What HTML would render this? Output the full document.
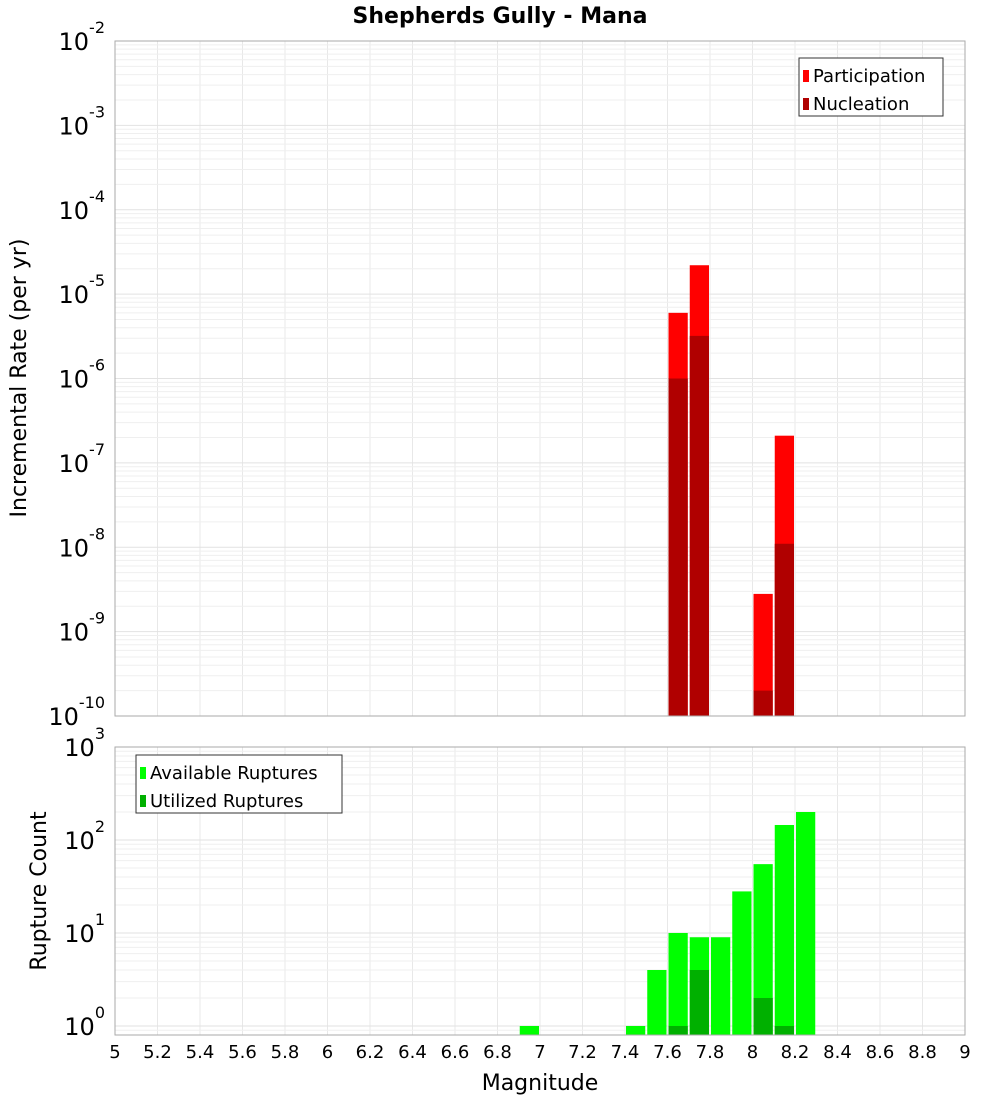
<!DOCTYPE html>
<html><head><meta charset="utf-8"><style>
body{margin:0;background:#fff;font-family:"Liberation Sans","DejaVu Sans",sans-serif}
svg text{font-family:"DejaVu Sans","Liberation Sans",sans-serif}
</style></head><body>
<svg id="c" width="1000" height="1100" xmlns="http://www.w3.org/2000/svg"></svg>
<script>
const bins=[6.9,7.4,7.5,7.6,7.7,7.8,7.9,8.0,8.1,8.2];
const available=[1,1,4,10,9,9,28,55,145,200];
const utilized=[0,0,0,1,4,0,0,2,1,0];
const rateBins=[7.6,7.7,8.0,8.1];
const participation=[6e-6,2.2e-5,2.8e-9,2.1e-7];
const nucleation=[1e-6,3.2e-6,2e-10,1.1e-8];
const xTicks=[5,5.2,5.4,5.6,5.8,6,6.2,6.4,6.6,6.8,7,7.2,7.4,7.6,7.8,8,8.2,8.4,8.6,8.8,9];
const topExps=[-2,-3,-4,-5,-6,-7,-8,-9,-10];
const botExps=[0,1,2,3];

const S=document.getElementById('c');const NS='http://www.w3.org/2000/svg';
function el(t,a,p){const e=document.createElementNS(NS,t);for(const k in a)e.setAttribute(k,a[k]);(p||S).appendChild(e);return e;}
const X0=115,X1=965;
const xs=m=>X0+(m-5)/4*(X1-X0);
const T0=41,T1=716;
const yt=v=>T0+(-2-Math.log10(v))*(T1-T0)/8;
const B0=747,B1=1035;
const lo=Math.log10(0.8);
const yb=v=>B1-(Math.log10(v)-lo)/(3-lo)*(B1-B0);

function frame(y0,y1,ys,eMin,eMax,vMin){
  for(const t of xTicks){const g=el('line',{x1:xs(t),x2:xs(t),y1:y0,y2:y1,stroke:'#e8e8e8'});}
  for(let e=eMin;e<eMax;e++)for(let k=1;k<10;k++){const v=k*Math.pow(10,e);if(v<vMin)continue;const y=ys(v);if(y<y0||y>y1)continue;const g=el('line',{x1:X0,x2:X1,y1:y,y2:y,stroke:k==1?'#e2e2e2':'#efefef'});}
}
function border(y0,y1,name){const r=el('rect',{x:X0,y:y0,width:X1-X0,height:y1-y0,fill:'none',stroke:'#aaa'});}
function ylab(y,e,name){const t=el('text',{x:105,y:y+9,'text-anchor':'end','font-size':24,fill:'#000'});t.textContent='10';const s=el('tspan',{dy:-17,'font-size':16},t);s.textContent=String(e);}

// top
frame(T0,T1,yt,-10,-2,1e-10);
for(let i=0;i<rateBins.length;i++){
  const x=xs(rateBins[i])+1,w=xs(rateBins[i]+0.1)-xs(rateBins[i])-2;
  const p=el('rect',{x,y:yt(participation[i]),width:w,height:T1-yt(participation[i]),fill:'#ff0000'});
  const n=el('rect',{x,y:yt(nucleation[i]),width:w,height:T1-yt(nucleation[i]),fill:'#b00000'});
}
border(T0,T1,'top-plot-area');
for(const e of topExps)ylab(yt(Math.pow(10,e)),e,'top-y-tick-label');
// bottom
frame(B0,B1,yb,-1,3,0.8);
for(let i=0;i<bins.length;i++){
  const x=xs(bins[i])+1,w=xs(bins[i]+0.1)-xs(bins[i])-2;
  const a=el('rect',{x,y:yb(available[i]),width:w,height:B1-yb(available[i]),fill:'#00ff00'});
  if(utilized[i]>0){const u=el('rect',{x,y:yb(utilized[i]),width:w,height:B1-yb(utilized[i]),fill:'#00b000'});}
}
border(B0,B1,'bottom-plot-area');
for(const e of botExps)ylab(yb(Math.pow(10,e)),e,'bottom-y-tick-label');
for(const t of xTicks){const tx=el('text',{x:xs(t),y:1058,'text-anchor':'middle','font-size':18,fill:'#000'});tx.textContent=String(t);}

function legend(x,y,w,items,name){
  const r=el('rect',{x,y,width:w,height:58,fill:'#fff',stroke:'#333'});
  items.forEach((it,i)=>{const s=el('rect',{x:x+4,y:y+12+i*28,width:6,height:12,fill:it[1]});
    const t=el('text',{x:x+14,y:y+24+i*28,'font-size':18,fill:'#000'});t.textContent=it[0];});
}
legend(799,58,144,[['Participation','#ff0000'],['Nucleation','#b00000']],'top-legend');
legend(136,755,206,[['Available Ruptures','#00ff00'],['Utilized Ruptures','#00b000']],'bottom-legend');

let t=el('text',{x:500,y:23,'text-anchor':'middle','font-size':22,'font-weight':'bold'});t.textContent='Shepherds Gully - Mana';
t=el('text',{x:540,y:1090,'text-anchor':'middle','font-size':22});t.textContent='Magnitude';
t=el('text',{x:0,y:0,'text-anchor':'middle','font-size':22,transform:'translate(26,378) rotate(-90)'});t.textContent='Incremental Rate (per yr)';
t=el('text',{x:0,y:0,'text-anchor':'middle','font-size':22,transform:'translate(46,891) rotate(-90)'});t.textContent='Rupture Count';
</script>
</body></html>
